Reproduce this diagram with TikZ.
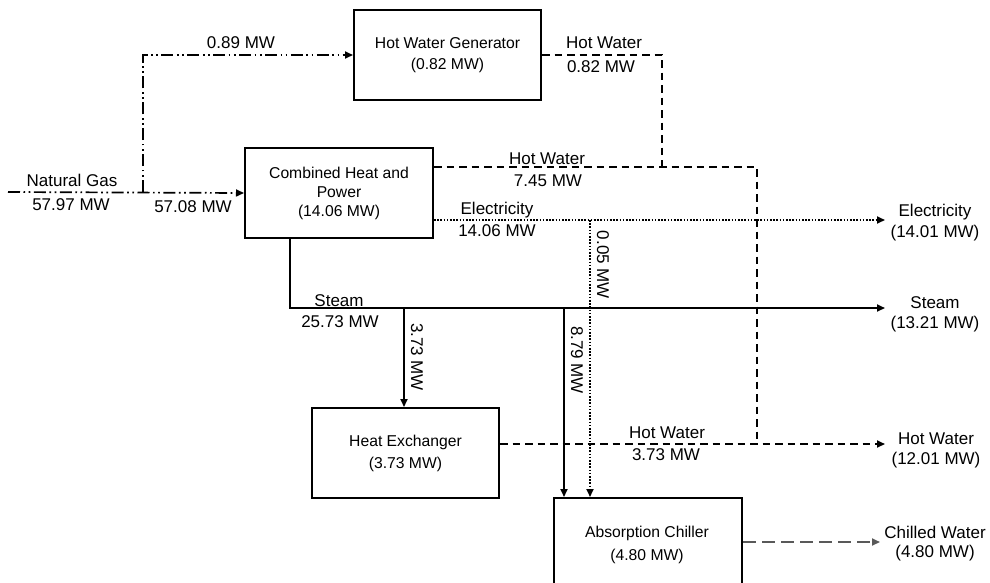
\documentclass[tikz,border=0pt]{standalone}
\usepackage{fontspec}
\setmainfont{Liberation Sans}
\usetikzlibrary{arrows.meta}
\begin{document}
\begin{tikzpicture}[x=1pt,y=-1pt,
  box/.style={draw,line width=2pt,anchor=north west,inner sep=0pt,align=center,font=\fontsize{15.7}{21}\selectfont},
  lbl/.style={inner sep=0pt,font=\fontsize{17}{20}\selectfont},
  rlbl/.style={lbl,rotate=-90},
  tip/.style={-{Triangle[length=8pt,width=7pt]}},
  gas/.style={line width=1.7pt,dash pattern=on 12pt off 3.5pt on 1.7pt off 3.5pt on 1.7pt off 3.5pt},
  hw/.style={line width=1.8pt,dash pattern=on 7.5pt off 5pt},
  elec/.style={line width=1.8pt,dash pattern=on 1.6pt off 1.6pt},
  steam/.style={line width=1.8pt},
  chw/.style={line width=1.8pt,draw=black!65,dash pattern=on 13pt off 6pt}
]
\useasboundingbox (0,0) rectangle (990,582);

% boxes
\node[box,minimum width=187pt,minimum height=90pt] (hwg) at (353,9) {Hot Water Generator\\(0.82 MW)};
\node[box,minimum width=188pt,minimum height=90pt,font=\fontsize{15.7}{19}\selectfont] (chp) at (244,147) {Combined Heat and\\Power\\(14.06 MW)};
\node[box,minimum width=187pt,minimum height=90pt,font=\fontsize{15.7}{22}\selectfont] (hx) at (311,407) {Heat Exchanger\\(3.73 MW)};
\node[box,minimum width=188pt,minimum height=130pt] (ac) at (553,497) {};
\node[lbl,font=\fontsize{15.7}{18}\selectfont] (actxt1) at (647,533) {Absorption Chiller};
\node[lbl,font=\fontsize{15.7}{18}\selectfont] (actxt2) at (647,556) {(4.80 MW)};

% coordinates
\coordinate (ng) at (8,192);
\coordinate (j1) at (143,192);
\coordinate (hwc) at (662,167);
\coordinate (hwv) at (757,167);
\coordinate (hwend) at (885,444);
\coordinate (elend) at (885,220);
\coordinate (elj) at (590,220);
\coordinate (stend) at (885,308);
\coordinate (stc) at (290,308);
\coordinate (stj1) at (404,308);
\coordinate (stj2) at (564,308);
\coordinate (chend) at (880,542);

% natural gas
\draw[gas,tip] (ng) -- (chp.west);
\draw[gas,tip] (j1) |- (hwg.west);

% hot water
\draw[hw] (hwg.east) -| (hwc);
\draw[hw] (chp.east |- hwv) -- (hwv) -- (hwv |- hwend);
\draw[hw,tip] (hx.east |- hwend) -- (hwend);

% electricity
\draw[elec,tip] (chp.east |- elend) -- (elend);
\draw[elec,tip] (elj) -- (elj |- ac.north);

% steam
\draw[steam,tip] (chp.south -| stc) -- (stc) -- (stend);
\draw[steam,tip] (stj1) -- (stj1 |- hx.north);
\draw[steam,tip] (stj2) -- (stj2 |- ac.north);

% chilled water
\draw[chw,tip] (ac.east |- chend) -- (chend);

% labels
\node[lbl] (l1) at (72,180) {Natural Gas};
\node[lbl] (l2) at (71,205) {57.97 MW};
\node[lbl] (l3) at (193,207) {57.08 MW};
\node[lbl] (l4) at (241,43) {0.89 MW};
\node[lbl] (l5) at (604,43) {Hot Water};
\node[lbl] (l6) at (601,67) {0.82 MW};
\node[lbl] (l7) at (547,159) {Hot Water};
\node[lbl] (l8) at (548,181) {7.45 MW};
\node[lbl] (l9) at (497,210) {Electricity};
\node[lbl] (l10) at (497,231) {14.06 MW};
\node[lbl] (l11) at (339,301) {Steam};
\node[lbl] (l12) at (340,322) {25.73 MW};
\node[lbl] (l13) at (667,433) {Hot Water};
\node[lbl] (l14) at (666,455) {3.73 MW};
\node[rlbl] (r1) at (603,265) {0.05 MW};
\node[rlbl] (r2) at (417,357) {3.73 MW};
\node[rlbl] (r3) at (577,360) {8.79 MW};

% outputs
\node[lbl] (o1) at (935,212) {Electricity};
\node[lbl] (o2) at (935,233) {(14.01 MW)};
\node[lbl] (o3) at (935,303) {Steam};
\node[lbl] (o4) at (935,324) {(13.21 MW)};
\node[lbl] (o5) at (936,439) {Hot Water};
\node[lbl] (o6) at (936,460) {(12.01 MW)};
\node[lbl] (o7) at (935,532) {Chilled Water};
\node[lbl] (o8) at (935,553) {(4.80 MW)};
\end{tikzpicture}
\end{document}
